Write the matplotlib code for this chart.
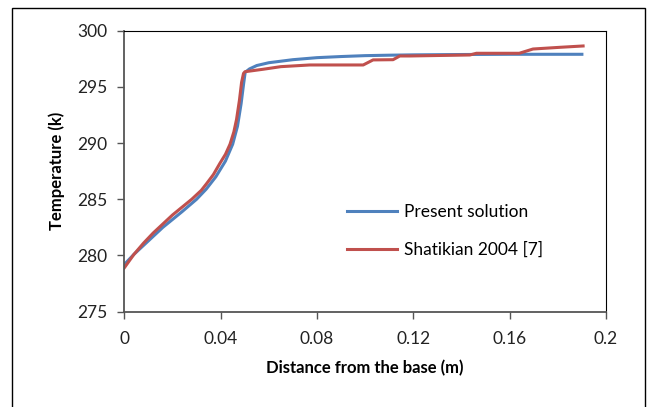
import matplotlib
matplotlib.use("Agg")
import matplotlib.pyplot as plt
from matplotlib.patches import Rectangle

# present solution (blue)
x_present = [0.0, 0.004, 0.008, 0.012, 0.016, 0.02, 0.024, 0.03, 0.034, 0.038, 0.042,
             0.045, 0.047, 0.0485, 0.0495, 0.0502, 0.052, 0.055, 0.06, 0.07, 0.08,
             0.09, 0.1, 0.11, 0.12, 0.14, 0.16, 0.19]
t_present = [279.2, 280.1, 280.9, 281.7, 282.5, 283.2, 283.9, 285.0, 285.9, 287.0, 288.4,
             289.9, 291.5, 293.5, 295.2, 296.3, 296.6, 296.9, 297.15, 297.42, 297.6,
             297.7, 297.78, 297.82, 297.85, 297.88, 297.9, 297.9]

# Shatikian 2004 [7] (red)
x_shat = [0.0, 0.004, 0.008, 0.012, 0.016, 0.02, 0.024, 0.028, 0.032, 0.0342, 0.037,
          0.0397, 0.042, 0.0439, 0.0455, 0.0466, 0.0478, 0.0487, 0.0495, 0.0501,
          0.0577, 0.065, 0.077, 0.0992, 0.1033, 0.1116, 0.1144, 0.1186,
          0.1435, 0.1462, 0.164, 0.1697, 0.1808, 0.1905]
t_shat = [278.9, 280.1, 281.1, 282.0, 282.8, 283.6, 284.3, 285.0, 285.8, 286.4, 287.2,
          288.2, 289.0, 289.9, 291.0, 292.1, 293.8, 295.4, 296.2, 296.35,
          296.57, 296.8, 296.95, 296.95, 297.4, 297.42, 297.75, 297.75,
          297.84, 297.99, 297.99, 298.37, 298.52, 298.64]

plt.rcParams['font.family'] = ['Lato', 'DejaVu Sans']

fig = plt.figure(figsize=(6.47, 4.07), dpi=100)
ax = fig.add_axes([0.1921, 0.2342, 0.7445, 0.6904])

ax.plot(x_present, t_present, color='#4F81BD', lw=2.2, label='Present solution')
ax.plot(x_shat, t_shat, color='#C0504D', lw=2.2, label='Shatikian 2004 [7]')

ax.set_xlim(0, 0.2)
ax.set_ylim(275, 300)
ax.set_xticks([0, 0.04, 0.08, 0.12, 0.16, 0.2])
ax.set_xticklabels(['0', '0.04', '0.08', '0.12', '0.16', '0.2'])
ax.set_yticks([275, 280, 285, 290, 295, 300])
ax.tick_params(labelsize=12.5, length=5, width=1, color='#555555', direction='out',
               labelcolor='#222222')
ax.tick_params(axis='x', pad=9)
ax.tick_params(axis='y', pad=7)

for s in ['left', 'bottom']:
    ax.spines[s].set_color('#555555')
    ax.spines[s].set_linewidth(1.3)
for s in ['top', 'right']:
    ax.spines[s].set_color('black')
    ax.spines[s].set_linewidth(0.8)

ax.set_xlabel('Distance from the base (m)', fontsize=12, fontweight='bold', labelpad=9)
ax.set_ylabel('Temperature (k)', fontsize=12, fontweight='bold', labelpad=9)

ax.legend(loc='upper left', bbox_to_anchor=(0.43, 0.44), frameon=False, fontsize=12.5,
          handlelength=2.9, labelspacing=1.25, handletextpad=0.4)

fig.patches.append(Rectangle((12 / 647, -0.02), 633 / 647, 1.01 - 4 / 407,
                             transform=fig.transFigure, fill=False,
                             edgecolor='black', lw=1))

fig.savefig('out.png', dpi=100)
